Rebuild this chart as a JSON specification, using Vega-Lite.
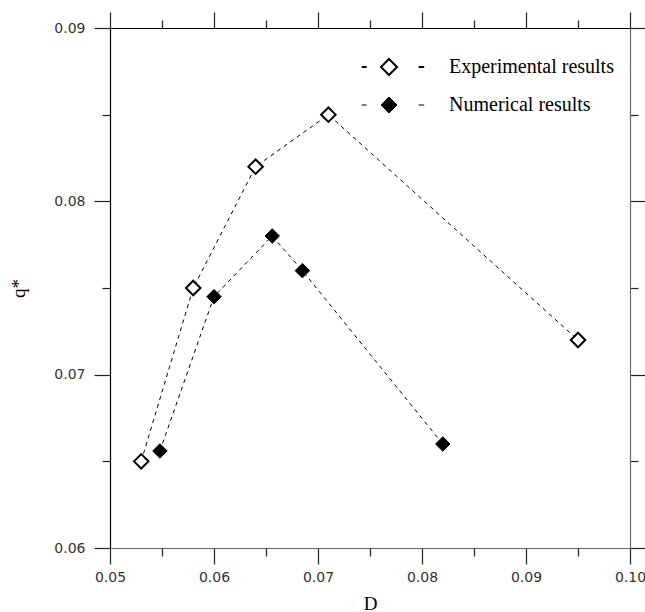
{
  "$schema": "https://vega.github.io/schema/vega-lite/v6.json",
  "width": 520,
  "height": 520,
  "autosize": "none",
  "padding": {"left": 110, "top": 28, "right": 15, "bottom": 64},
  "background": "white",
  "config": {
    "view": {"stroke": null},
    "axis": {
      "grid": false,
      "labelFont": "DejaVu Sans",
      "labelFontSize": 14,
      "labelColor": "#333333",
      "tickColor": "#222222",
      "tickWidth": 1.2,
      "domainWidth": 1.2,
      "titleFont": "Liberation Serif",
      "titleFontSize": 19,
      "titleFontWeight": "normal",
      "titleColor": "black"
    }
  },
  "data": {
    "values": [
      {"series": "Experimental results", "D": 0.053, "q": 0.065},
      {"series": "Experimental results", "D": 0.058, "q": 0.075},
      {"series": "Experimental results", "D": 0.064, "q": 0.082},
      {"series": "Experimental results", "D": 0.071, "q": 0.085},
      {"series": "Experimental results", "D": 0.095, "q": 0.072},
      {"series": "Numerical results", "D": 0.0548, "q": 0.0656},
      {"series": "Numerical results", "D": 0.060, "q": 0.0745},
      {"series": "Numerical results", "D": 0.0656, "q": 0.078},
      {"series": "Numerical results", "D": 0.0685, "q": 0.076},
      {"series": "Numerical results", "D": 0.082, "q": 0.066}
    ]
  },
  "layer": [
    {
      "mark": {"type": "line", "color": "black", "strokeWidth": 1, "strokeDash": [4, 4]},
      "encoding": {
        "x": {
          "field": "D", "type": "quantitative",
          "scale": {"domain": [0.05, 0.10], "nice": false, "zero": false},
          "axis": {
            "orient": "bottom",
            "title": "D",
            "values": [0.05, 0.06, 0.07, 0.08, 0.09, 0.10],
            "format": ".2f",
            "tickSize": 16,
            "labelPadding": 6,
            "labelFlush": false,
            "labelOverlap": false,
            "domainColor": "#666666",
            "titleY": 61,
            "titleBaseline": "alphabetic"
          }
        },
        "y": {
          "field": "q", "type": "quantitative",
          "scale": {"domain": [0.06, 0.09], "nice": false, "zero": false},
          "axis": {
            "orient": "left",
            "title": "q*",
            "values": [0.06, 0.07, 0.08, 0.09],
            "format": ".2f",
            "tickSize": 16,
            "labelPadding": 9,
            "labelFlush": false,
            "labelOverlap": false,
            "domainColor": "black",
            "titleX": -86,
            "titleBaseline": "alphabetic"
          }
        },
        "detail": {"field": "series", "type": "nominal"}
      }
    },
    {
      "mark": {"type": "point", "shape": "diamond", "size": 0, "opacity": 0},
      "encoding": {
        "x": {
          "field": "D", "type": "quantitative",
          "axis": {
            "orient": "bottom",
            "title": null,
            "values": [0.055, 0.065, 0.075, 0.085, 0.095],
            "labels": false,
            "domain": false,
            "tickSize": 8
          }
        },
        "y": {
          "field": "q", "type": "quantitative",
          "axis": {
            "orient": "left",
            "title": null,
            "values": [0.065, 0.075, 0.085],
            "labels": false,
            "domain": false,
            "tickSize": 8
          }
        }
      }
    },
    {
      "mark": {"type": "point", "shape": "diamond", "size": 0, "opacity": 0},
      "encoding": {
        "x": {
          "field": "D", "type": "quantitative",
          "axis": {
            "orient": "top",
            "title": null,
            "values": [0.055, 0.065, 0.075, 0.085, 0.095],
            "labels": false,
            "domain": false,
            "tickSize": 8
          }
        },
        "y": {
          "field": "q", "type": "quantitative",
          "axis": {
            "orient": "right",
            "title": null,
            "values": [0.065, 0.075, 0.085],
            "labels": false,
            "domain": false,
            "tickSize": 8
          }
        }
      }
    },
    {
      "mark": {"type": "point", "shape": "diamond", "size": 210, "filled": true, "opacity": 1, "stroke": "black"},
      "encoding": {
        "x": {
          "field": "D", "type": "quantitative",
          "axis": {
            "orient": "top",
            "title": null,
            "values": [0.05, 0.06, 0.07, 0.08, 0.09, 0.10],
            "labels": false,
            "tickSize": 16,
            "domainColor": "black"
          }
        },
        "y": {
          "field": "q", "type": "quantitative",
          "axis": {
            "orient": "right",
            "title": null,
            "values": [0.06, 0.07, 0.08, 0.09],
            "labels": false,
            "tickSize": 16,
            "domainColor": "#666666"
          }
        },
        "fill": {
          "field": "series", "type": "nominal",
          "scale": {"domain": ["Experimental results", "Numerical results"], "range": ["white", "black"]},
          "legend": {
            "title": null,
            "orient": "none",
            "legendX": 269,
            "legendY": 29,
            "padding": 0,
            "symbolType": "M-3.4,0H-2.8M3.7,0H4.4M0,-1L1,0L0,1L-1,0Z",
            "symbolSize": 256,
            "symbolStrokeColor": "black",
            "symbolStrokeWidth": 1.8,
            "symbolOpacity": 1,
            "labelFont": "Liberation Serif",
            "labelFontSize": 20,
            "labelColor": "black",
            "labelLimit": 400,
            "labelOffset": 50,
            "rowPadding": 16
          }
        },
        "strokeWidth": {
          "field": "series", "type": "nominal",
          "scale": {"domain": ["Experimental results", "Numerical results"], "range": [2, 1]},
          "legend": null
        }
      }
    }
  ],
  "resolve": {"axis": {"x": "independent", "y": "independent"}}
}
